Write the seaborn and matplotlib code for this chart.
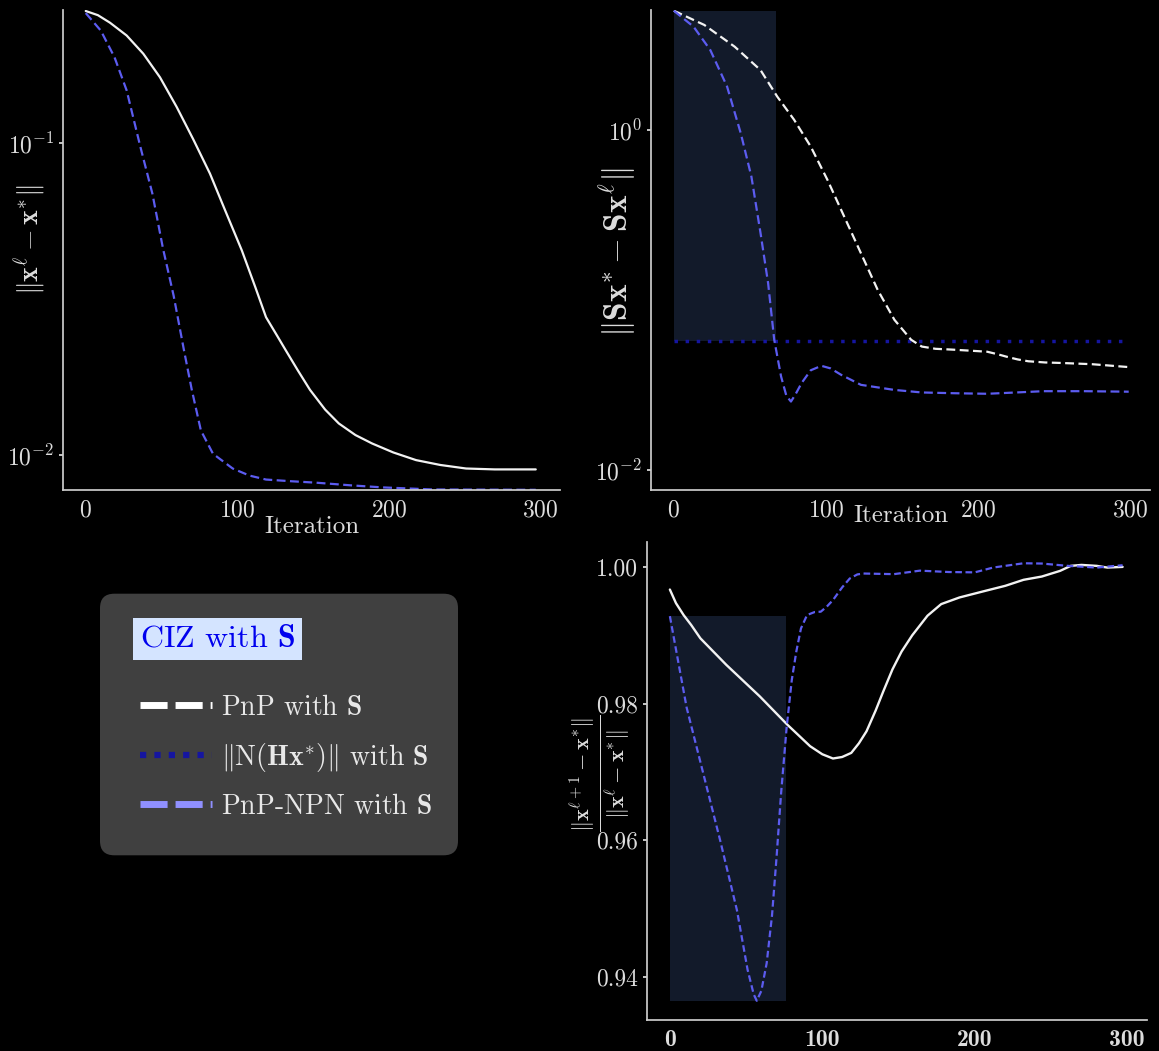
import numpy as np
import pandas as pd
import seaborn as sns
import matplotlib.pyplot as plt
from matplotlib.lines import Line2D
from matplotlib.patches import FancyBboxPatch

# error ||x^l - x*|| (top left)
it_pnp_err = [0, 8, 16, 27, 38, 49, 60, 71, 82, 92, 103, 112, 119, 126, 132, 140,
              148, 158, 167, 178, 189, 203, 218, 234, 251, 270, 297]
pnp_err = [0.266, 0.258, 0.244, 0.222, 0.194, 0.163, 0.131, 0.103, 0.080, 0.061,
           0.0454, 0.0345, 0.0277, 0.0243, 0.0217, 0.0187, 0.0162, 0.0140, 0.01264,
           0.0116, 0.0109, 0.0102, 0.00964, 0.00930, 0.00906, 0.00900, 0.00900]
it_npn_err = [0, 10, 19, 27, 36, 44, 51, 58, 65, 70, 76, 84, 97, 108, 119, 135,
              152, 175, 196, 229, 297]
npn_err = [0.262, 0.230, 0.189, 0.148, 0.0978, 0.069, 0.046, 0.0325, 0.0215, 0.0162,
           0.0120, 0.0101, 0.00906, 0.00860, 0.00835, 0.00825, 0.00816, 0.00800,
           0.00788, 0.00776, 0.00774]

# ||Sx* - Sx^l|| (top right)
it_pnp_s = [0, 20, 40, 57, 68, 79, 90, 101, 112, 123, 134, 145, 156, 163, 172, 182,
            195, 206, 213, 219, 226, 233, 244, 255, 275, 299]
pnp_s = [5.03, 4.15, 3.09, 2.25, 1.57, 1.15, 0.798, 0.508, 0.309, 0.188, 0.1145,
         0.0763, 0.0582, 0.0531, 0.0515, 0.0510, 0.0502, 0.0495, 0.0478, 0.0462,
         0.0446, 0.0435, 0.0428, 0.0425, 0.0418, 0.0402]
it_npn_s = [0, 13, 24, 35, 44, 51, 57, 62, 66, 70.5, 74, 77, 80, 84, 90, 97, 103,
            110, 123, 145, 163, 185, 206, 225, 243, 270, 299]
npn_s = [5.03, 4.05, 2.95, 1.80, 0.956, 0.531, 0.247, 0.125, 0.0582, 0.0354, 0.0272,
         0.0252, 0.0278, 0.0324, 0.0385, 0.0409, 0.0395, 0.0362, 0.0316, 0.0295,
         0.0285, 0.0282, 0.0280, 0.0285, 0.0290, 0.0290, 0.0288]
noise_level = 0.0574
noise_iters = [0, 298]

# ratio ||x^{l+1}-x*|| / ||x^l-x*|| (bottom right)
it_pnp_r = [0, 4, 9, 14, 20, 37, 59, 77, 92, 100, 107, 113, 119, 124, 129, 135, 140,
            146, 152, 159, 169, 178, 190, 207, 220, 232, 244, 256, 263, 270, 280,
            287, 297]
pnp_r = [0.99669, 0.99470, 0.99296, 0.99150, 0.98956, 0.98568, 0.98106, 0.97694,
         0.97378, 0.97260, 0.97198, 0.97220, 0.97280, 0.97420, 0.97596, 0.97900,
         0.98179, 0.98500, 0.98762, 0.9900, 0.99286, 0.99456, 0.99553, 0.9965,
         0.99723, 0.99811, 0.99859, 0.99942, 1.00015, 1.00029, 1.00015, 0.9999, 1.0]
it_npn_r = [0, 11, 22, 33, 44, 51, 55, 57, 60, 63.5, 67, 70, 73, 76.6, 80, 83, 86,
            90, 95, 99, 103, 107, 113, 118, 123, 127, 147, 164, 183, 200, 212, 232,
            244, 261, 280, 297]
npn_r = [0.9928, 0.97943, 0.96972, 0.96, 0.9498, 0.94107, 0.93750, 0.93655, 0.93800,
         0.94204, 0.9490, 0.95757, 0.9670, 0.97651, 0.98350, 0.98768, 0.99100,
         0.99296, 0.99340, 0.99345, 0.99420, 0.99515, 0.99700, 0.9983, 0.99890,
         0.99903, 0.99894, 0.99945, 0.99925, 0.99920, 0.9999, 1.00053, 1.00049,
         1.00015, 0.9999, 1.00024]

# highlighted windows (start/end iteration)
span_s = [0, 67]
span_r = [0, 76]

legend_labels = [r'PnP with $\mathbf{S}$',
                 r'$\|\mathrm{N}(\mathbf{Hx}^{*})\|$ with $\mathbf{S}$',
                 r'PnP-NPN with $\mathbf{S}$']

sns.set_theme(style="dark")
plt.rcParams.update({
    "figure.facecolor": "black",
    "axes.facecolor": "black",
    "savefig.facecolor": "black",
    "axes.edgecolor": "#cccccc",
    "axes.labelcolor": "#dddddd",
    "xtick.color": "#dddddd",
    "ytick.color": "#dddddd",
    "text.color": "#dddddd",
    "axes.grid": False,
    "mathtext.fontset": "cm",
    "axes.formatter.use_mathtext": True,
    "axes.unicode_minus": False,
})
plt.rcParams["font.family"] = "serif"
plt.rcParams["font.serif"] = ["cmr10", "DejaVu Serif"]

white = "#f2f2f2"
blue = "#5c5cf0"
navy = "#1515a0"
shade = "#121a2a"

fig = plt.figure(figsize=(11.59, 10.51), dpi=100)
W, H = 1159, 1051


def place(l, t, r, b):
    return fig.add_axes([l / W, 1 - b / H, (r - l) / W, (b - t) / H])


ax1 = place(63, 10, 560, 490)
ax2 = place(651, 10, 1150, 490)
ax3 = place(647, 542, 1147, 1020)

for ax in (ax1, ax2, ax3):
    ax.spines["top"].set_visible(False)
    ax.spines["right"].set_visible(False)
    ax.spines["left"].set_color("#cccccc")
    ax.spines["bottom"].set_color("#cccccc")
    ax.tick_params(axis="both", labelsize=17, length=3, left=True, bottom=False)
    ax.set_xticks([0, 100, 200, 300])
    ax.set_xlim(-15, 313)

# top left
sns.lineplot(x=it_pnp_err, y=pnp_err, ax=ax1, color=white, lw=1.6)
sns.lineplot(x=it_npn_err, y=npn_err, ax=ax1, color=blue, lw=1.6, linestyle=(0, (4, 2)))
ax1.set_yscale("log")
ax1.set_ylim(0.00773, 0.268)
ax1.set_xlabel("Iteration", fontsize=18, labelpad=-4)
ax1.set_ylabel(r"$\|\mathbf{x}^{\ell} - \mathbf{x}^{*}\|$", fontsize=20)
ax1.yaxis.set_label_coords(-0.032, 0.521)

# top right
ax2.fill_between(span_s, noise_level, max(pnp_s), color=shade, lw=0)
sns.lineplot(x=noise_iters, y=[noise_level] * 2, ax=ax2, color=navy, lw=2.5, linestyle=(0, (1, 2.2)))
sns.lineplot(x=it_pnp_s, y=pnp_s, ax=ax2, color=white, lw=1.6, linestyle=(0, (4, 2)))
sns.lineplot(x=it_npn_s, y=npn_s, ax=ax2, color=blue, lw=1.6, linestyle=(0, (4, 2)))
ax2.set_yscale("log")
ax2.set_ylim(0.0076, 5.08)
ax2.set_yticks([1e-2, 1e0])
ax2.minorticks_off()
ax2.set_xlabel("Iteration", fontsize=18, labelpad=-12)
ax2.set_ylabel(r"$\|\mathbf{S}\mathbf{x}^{*} - \mathbf{S}\mathbf{x}^{\ell}\|$", fontsize=24)
ax2.yaxis.set_label_coords(-0.026, 0.496)

# bottom right
ax3.fill_between(span_r, min(npn_r), npn_r[0], color=shade, lw=0)
sns.lineplot(x=it_pnp_r, y=pnp_r, ax=ax3, color=white, lw=1.7)
sns.lineplot(x=it_npn_r, y=npn_r, ax=ax3, color=blue, lw=1.6, linestyle=(0, (3, 1.6)))
ax3.set_ylim(0.93374, 1.00364)
ax3.set_yticks([0.94, 0.96, 0.98, 1.00])
ax3.set_yticklabels(["0.94", "0.96", "0.98", "1.00"])
ax3.set_xticklabels(["0", "100", "200", "300"], fontfamily="cmb10")
ax3.set_xlabel("Iteration", fontsize=18, labelpad=2)
ax3.set_ylabel(r"$\frac{\|\mathbf{x}^{\ell+1}-\mathbf{x}^{*}\|}{\|\mathbf{x}^{\ell}-\mathbf{x}^{*}\|}$",
               fontsize=23)
ax3.yaxis.set_label_coords(-0.03, 0.517)

# legend panel
axl = place(100, 594, 458, 855)
axl.axis("off")
axl.add_patch(FancyBboxPatch((0.03, 0.04), 0.94, 0.92, boxstyle="round,pad=0.03,rounding_size=0.04",
                             transform=axl.transAxes, facecolor="#404040", edgecolor="none",
                             mutation_aspect=358 / 261, clip_on=False))
handles = [
    Line2D([], [], color="white", lw=5, linestyle=(0, (3.9, 1.15))),
    Line2D([], [], color=navy, lw=4.5, linestyle=(0, (1, 1.3))),
    Line2D([], [], color="#9090ff", lw=5, linestyle=(0, (3.9, 1.15))),
]
leg = axl.legend(handles, legend_labels, loc="upper left", fontsize=20, frameon=False,
                 title=r"CIZ with $\mathbf{S}$", title_fontsize=23, handlelength=2.6,
                 labelspacing=0.72, borderpad=0, handletextpad=0.3,
                 bbox_to_anchor=(0.112, 0.88), borderaxespad=0)
leg._legend_box.align = "left"
leg._legend_box.sep = 30
title = leg.get_title()
title.set_color("#0000ee")
title.set_bbox(dict(facecolor="#d4e4ff", edgecolor="none", pad=5))
for t in leg.get_texts():
    t.set_color("#e8e8e8")

fig.savefig("out.png", dpi=100, facecolor="black")
